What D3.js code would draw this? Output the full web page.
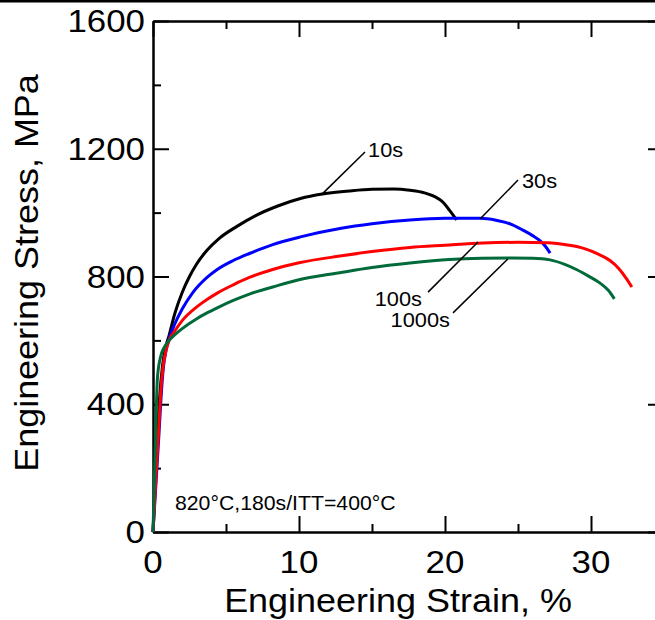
<!DOCTYPE html>
<html>
<head>
<meta charset="utf-8">
<script src="https://cdn.jsdelivr.net/npm/d3@7"></script>
<style>
  body { margin: 0; background: #fff; }
  svg { display: block; }
  text { font-family: Arial, "Liberation Sans", sans-serif; fill: #000; }
</style>
</head>
<body>
<script>
// stress-strain data: [strain %, stress MPa]
const s10 = [[0,0],[0.25,250],[0.45,420],[0.65,520],[0.85,575],[1.1,615],[1.5,685],[2.0,750],[2.5,800],[3.0,840],[3.7,882],[4.5,918],[5.75,957],[7.0,990],[8.5,1020],[10.1,1044],[11.6,1058],[13.5,1068],[15.0,1073],[16.5,1074],[17.6,1070],[18.6,1062],[19.3,1050],[19.8,1035],[20.3,1008],[20.8,977]];
const s30 = [[0,0],[0.2,150],[0.4,300],[0.55,420],[0.7,510],[0.9,570],[1.1,605],[1.5,652],[2.0,698],[2.7,748],[3.7,797],[4.4,822],[5.5,850],[6.6,872],[8.2,900],[10.1,924],[12.8,950],[15,965],[17.6,977],[20,982],[22.4,982],[23.5,976],[24.5,964],[25.3,946],[26,928],[26.5,912],[26.9,893],[27.2,873]];
const s100 = [[0,0],[0.2,170],[0.4,330],[0.55,450],[0.7,520],[0.9,570],[1.1,600],[1.5,630],[2.0,662],[3.0,705],[3.7,728],[4.4,748],[5.5,774],[6.6,797],[8.2,822],[10,843],[12.8,864],[15,878],[17.6,891],[20,898],[22.6,905],[25,907],[27,906],[28.5,898],[29.5,888],[30.5,870],[31.3,850],[31.9,825],[32.4,795],[32.8,767]];
const s1000 = [[0,0],[0.15,250],[0.3,480],[0.5,545],[0.8,580],[1.1,600],[1.5,618],[2.0,637],[3.0,668],[3.7,686],[4.4,702],[5.5,725],[6.6,745],[8.2,767],[10,790],[12.8,812],[15,828],[17.6,842],[20.3,853],[22.5,857],[24.5,858],[26,857],[27.2,852],[28.2,838],[29,822],[29.8,802],[30.6,780],[31.2,756],[31.6,730]];

const seriesNames = ["10s", "30s", "100s", "1000s"];
const seriesData = [s10, s30, s100, s1000];
const seriesColors = ["#000000", "#0000ff", "#ff0000", "#006a3a"];

// leader lines: [from strain, from stress, to strain, to stress], label anchor point and side
const leaders = [[11.58,1058,14.52,1190],[22.4,980,25.0,1102],[22.26,908,18.84,751],[24.3,855,20.55,686]];
const labelPos = [[14.73,1174],[25.27,1077],[18.42,708],[20.34,642]];
const labelAnchor = ["start","start","end","end"];

const xMajor = [0, 10, 20, 30];
const xMinor = [5, 15, 25];
const yMajor = [0, 400, 800, 1200, 1600];
const yMinor = [200, 600, 1000, 1400];

const note = "820°C,180s/ITT=400°C";

const W = 655, H = 620;
const mLeft = 153, mRight = 664, mTop = 21, mBottom = 532;
const sx = 1.09; // glyphs in the picture are a bit wider than tall

const svg = d3.select("body").append("svg").attr("width", W).attr("height", H);

const x = d3.scaleLinear().domain([0, 35]).range([mLeft, mRight]);
const y = d3.scaleLinear().domain([0, 1600]).range([mBottom, mTop]);

// text placed at (px,py) and stretched horizontally
const place = (px, py, rot) => `translate(${px},${py})` + (rot ? ` rotate(${rot})` : "") + ` scale(${sx},1)`;

// top border line of the figure
svg.append("line").attr("x1", 0).attr("x2", W).attr("y1", 1).attr("y2", 1)
  .attr("stroke", "#000").attr("stroke-width", 3);

// axes, ticks pointing inward
const ax = function(g, axis) {
  g.call(axis);
  g.select(".domain").attr("stroke-width", 2);
  g.selectAll(".tick line").attr("stroke-width", 2);
  g.selectAll(".tick text").remove();
};
svg.append("g").attr("transform", `translate(0,${mBottom})`)
  .call(g => ax(g, d3.axisBottom(x).tickValues(xMajor).tickSize(-16).tickSizeOuter(0)));
svg.append("g").attr("transform", `translate(0,${mBottom})`)
  .call(g => ax(g, d3.axisBottom(x).tickValues(xMinor).tickSize(-8).tickSizeOuter(0)));
svg.append("g").attr("transform", `translate(0,${mTop})`)
  .call(g => ax(g, d3.axisTop(x).tickValues(xMajor).tickSize(-16).tickSizeOuter(0)));
svg.append("g").attr("transform", `translate(0,${mTop})`)
  .call(g => ax(g, d3.axisTop(x).tickValues(xMinor).tickSize(-8).tickSizeOuter(0)));
svg.append("g").attr("transform", `translate(${mLeft},0)`)
  .call(g => ax(g, d3.axisLeft(y).tickValues(yMajor).tickSize(-16).tickSizeOuter(0)));
svg.append("g").attr("transform", `translate(${mLeft},0)`)
  .call(g => ax(g, d3.axisLeft(y).tickValues(yMinor).tickSize(-8).tickSizeOuter(0)));
svg.append("g").attr("transform", `translate(${mRight},0)`)
  .call(g => ax(g, d3.axisRight(y).tickValues(yMajor).tickSize(-16).tickSizeOuter(0)));
svg.append("g").attr("transform", `translate(${mRight},0)`)
  .call(g => ax(g, d3.axisRight(y).tickValues(yMinor).tickSize(-8).tickSizeOuter(0)));

// tick labels
svg.append("g").selectAll("text").data(xMajor).enter().append("text")
  .attr("transform", d => place(x(d), 573))
  .attr("text-anchor", "middle").attr("font-size", "32px")
  .text(d => d);
svg.append("g").selectAll("text").data(yMajor).enter().append("text")
  .attr("transform", d => place(145, y(d) + 11))
  .attr("text-anchor", "end").attr("font-size", "32px")
  .text(d => d);

// axis titles
svg.append("text").attr("transform", place(398, 612))
  .attr("text-anchor", "middle").attr("font-size", "33px")
  .text("Engineering Strain, %");
svg.append("text").attr("transform", `translate(38,273) rotate(-90) scale(${sx},1)`)
  .attr("text-anchor", "middle").attr("font-size", "33px")
  .text("Engineering Stress, MPa");

// curves
const line = d3.line().x(d => x(d[0])).y(d => y(d[1])).curve(d3.curveMonotoneX);
svg.append("g").selectAll("path").data(seriesData).enter().append("path")
  .attr("d", line)
  .attr("fill", "none")
  .attr("stroke", (d, i) => seriesColors[i])
  .attr("stroke-width", 3)
  .attr("stroke-linejoin", "round");

// leader lines and labels
svg.append("g").selectAll("line").data(leaders).enter().append("line")
  .attr("x1", d => x(d[0])).attr("y1", d => y(d[1]))
  .attr("x2", d => x(d[2])).attr("y2", d => y(d[3]))
  .attr("stroke", "#000").attr("stroke-width", 1.5);
svg.append("g").selectAll("text").data(labelPos).enter().append("text")
  .attr("transform", d => place(x(d[0]), y(d[1])))
  .attr("text-anchor", (d, i) => labelAnchor[i])
  .attr("font-size", "20px")
  .text((d, i) => seriesNames[i]);

svg.append("text").attr("transform", place(175, 510)).attr("font-size", "19.5px").text(note);
</script>
</body>
</html>
